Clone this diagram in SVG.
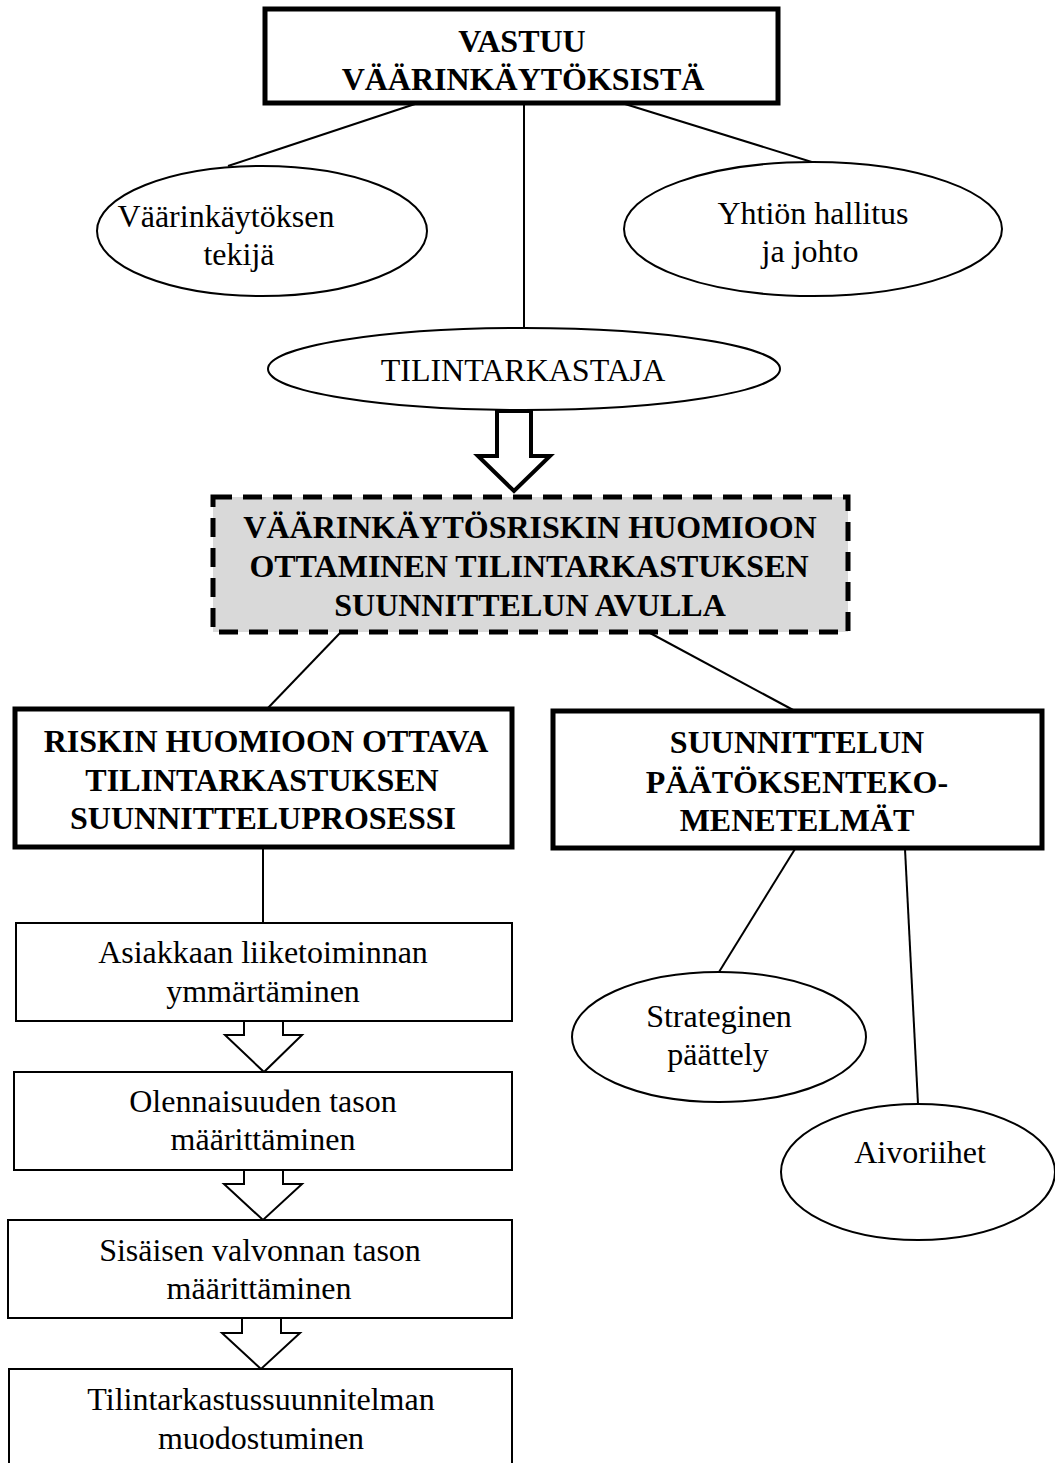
<svg xmlns="http://www.w3.org/2000/svg" width="1055" height="1463" viewBox="0 0 1055 1463">
<style>
.bg{fill:#ffffff}
.thick{fill:#ffffff;stroke:#000;stroke-width:5}
.thin{fill:#ffffff;stroke:#000;stroke-width:2}
.ell{fill:#ffffff;stroke:#000;stroke-width:2}
.dash{fill:#d9d9d9;stroke:#000;stroke-width:5;stroke-dasharray:19 11}
.line{stroke:#000;stroke-width:2;fill:none}
.barrow{fill:#ffffff;stroke:#000;stroke-width:4;stroke-linejoin:miter}
.sarrow{fill:#ffffff;stroke:#000;stroke-width:2;stroke-linejoin:miter}
text{font-family:'Liberation Serif','Times New Roman',serif;text-anchor:middle;fill:#000}
.h{font-weight:bold;font-size:32px}
.t{font-size:32px}
</style>
<rect class="bg" x="0" y="0" width="1055" height="1463"/>

<g id="connectors">
<line class="line" x1="415" y1="104" x2="228" y2="166"/>
<line class="line" x1="524" y1="104" x2="524" y2="328"/>
<line class="line" x1="625" y1="104" x2="815" y2="163"/>
<line class="line" x1="340" y1="633" x2="267" y2="709"/>
<line class="line" x1="650" y1="633" x2="795" y2="711"/>
<line class="line" x1="263" y1="848" x2="263" y2="923"/>
<line class="line" x1="795" y1="849" x2="719" y2="972"/>
<line class="line" x1="905" y1="849" x2="918" y2="1104"/>
<polygon class="barrow" points="497,411 531,411 531,456 550,456 514,491 478,456 497,456"/>
<polygon class="sarrow" points="244,1021 283,1021 283,1035 302,1035 264,1072 225,1035 244,1035"/>
<polygon class="sarrow" points="244,1170 283,1170 283,1184 302,1184 263,1220 224,1184 244,1184"/>
<polygon class="sarrow" points="242,1318 281,1318 281,1333 300,1333 261,1369 222,1333 242,1333"/>
</g>

<g id="vastuu">
<rect class="thick" x="265" y="9" width="513" height="94"/>
<text class="h" x="522" y="52" font-size="33">VASTUU</text>
<text class="h" x="523" y="90" font-size="33">VÄÄRINKÄYTÖKSISTÄ</text>
</g>

<g id="tekija">
<ellipse class="ell" cx="262" cy="231" rx="165" ry="65"/>
<text class="t" x="226" y="227">Väärinkäytöksen</text>
<text class="t" x="239" y="265">tekijä</text>
</g>

<g id="hallitus">
<ellipse class="ell" cx="813" cy="229" rx="189" ry="67"/>
<text class="t" x="813" y="224">Yhtiön hallitus</text>
<text class="t" x="810" y="262">ja johto</text>
</g>

<g id="tilintarkastaja">
<ellipse class="ell" cx="524" cy="369" rx="256" ry="41"/>
<text class="t" x="523" y="381">TILINTARKASTAJA</text>
</g>

<g id="huomioon">
<rect class="dash" x="213" y="497" width="635" height="135"/>
<text class="h" x="530" y="538">VÄÄRINKÄYTÖSRISKIN HUOMIOON</text>
<text class="h" x="529" y="577">OTTAMINEN TILINTARKASTUKSEN</text>
<text class="h" x="530" y="616">SUUNNITTELUN AVULLA</text>
</g>

<g id="prosessi">
<rect class="thick" x="15" y="709" width="497" height="138"/>
<text class="h" x="266" y="752">RISKIN HUOMIOON OTTAVA</text>
<text class="h" x="262" y="791">TILINTARKASTUKSEN</text>
<text class="h" x="263" y="829">SUUNNITTELUPROSESSI</text>
</g>

<g id="menetelmat">
<rect class="thick" x="553" y="711" width="489" height="137"/>
<text class="h" x="797" y="753">SUUNNITTELUN</text>
<text class="h" x="797" y="793">PÄÄTÖKSENTEKO-</text>
<text class="h" x="797" y="831">MENETELMÄT</text>
</g>

<g id="asiakas">
<rect class="thin" x="16" y="923" width="496" height="98"/>
<text class="t" x="263" y="963">Asiakkaan liiketoiminnan</text>
<text class="t" x="263" y="1002">ymmärtäminen</text>
</g>

<g id="olennaisuus">
<rect class="thin" x="14" y="1072" width="498" height="98"/>
<text class="t" x="263" y="1112">Olennaisuuden tason</text>
<text class="t" x="263" y="1150">määrittäminen</text>
</g>

<g id="valvonta">
<rect class="thin" x="8" y="1220" width="504" height="98"/>
<text class="t" x="260" y="1261">Sisäisen valvonnan tason</text>
<text class="t" x="259" y="1299">määrittäminen</text>
</g>

<g id="suunnitelma">
<rect class="thin" x="9" y="1369" width="503" height="100"/>
<text class="t" x="261" y="1410">Tilintarkastussuunnitelman</text>
<text class="t" x="261" y="1449">muodostuminen</text>
</g>

<g id="strateginen">
<ellipse class="ell" cx="719" cy="1037" rx="147" ry="65"/>
<text class="t" x="719" y="1027">Strateginen</text>
<text class="t" x="718" y="1065">päättely</text>
</g>

<g id="aivoriihet">
<ellipse class="ell" cx="918" cy="1172" rx="137" ry="68"/>
<text class="t" x="920" y="1163">Aivoriihet</text>
</g>
</svg>
